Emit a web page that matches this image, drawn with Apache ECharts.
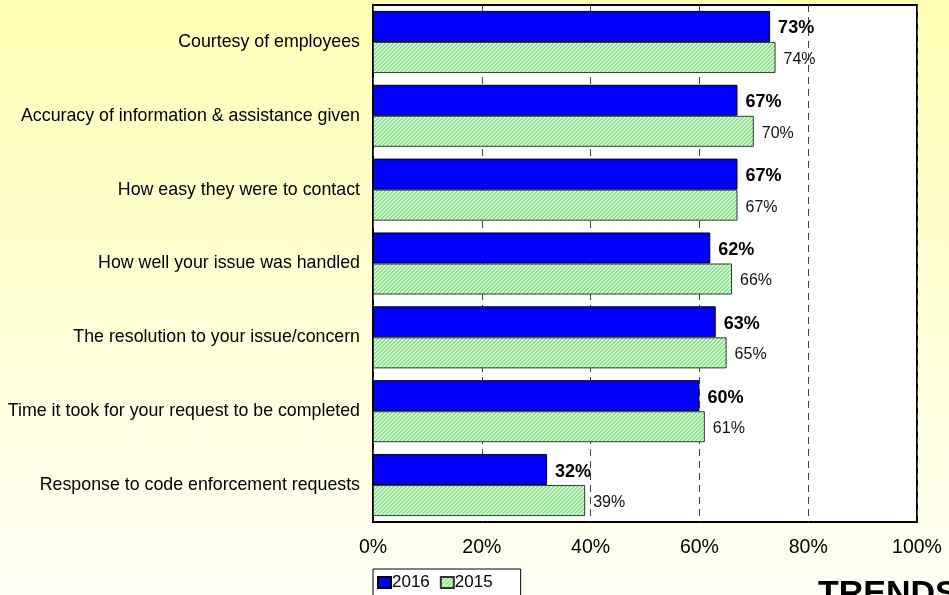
<!DOCTYPE html>
<html>
<head>
<meta charset="utf-8">
<script src="https://cdn.jsdelivr.net/npm/echarts@6/dist/echarts.min.js"></script>
<style>
html,body{margin:0;padding:0;}
#chart{width:949px;height:595px;}
</style>
</head>
<body>
<div id="chart"></div>
<script>
var categories = [
  'Courtesy of employees',
  'Accuracy of information & assistance given',
  'How easy they were to contact',
  'How well your issue was handled',
  'The resolution to your issue/concern',
  'Time it took for your request to be completed',
  'Response to code enforcement requests'
];
var values2016 = [73, 67, 67, 62, 63, 60, 32];
var values2015 = [74, 70, 67, 66, 65, 61, 39];
var seriesNames = ['2016', '2015'];
var footerText = 'TRENDS';

function makeHatch() {
  var c = document.createElement('canvas');
  c.width = 4; c.height = 4;
  var ctx = c.getContext('2d');
  ctx.fillStyle = '#DEFFDE';
  ctx.fillRect(0, 0, 4, 4);
  ctx.fillStyle = '#80EC80';
  for (var i = 0; i < 4; i++) {
    ctx.fillRect((3 - i) % 4, i, 1, 1);
    ctx.fillRect((4 - i) % 4, i, 1, 1);
  }
  return c;
}
var hatch = makeHatch();

var chart = echarts.init(document.getElementById('chart'), null, {renderer: 'canvas'});
var option = {
  animation: false,
  backgroundColor: {
    type: 'linear', x: 0, y: 0, x2: 0, y2: 1,
    colorStops: [
      {offset: 0, color: '#FFFFB4'},
      {offset: 1, color: '#FFFFF4'}
    ]
  },
  grid: {
    left: 373, right: 32, top: 5, bottom: 73,
    show: true, backgroundColor: '#FFFFFF', borderColor: '#000000', borderWidth: 2
  },
  legend: {
    data: seriesNames,
    left: 373, top: 569,
    orient: 'horizontal',
    backgroundColor: '#FFFFFF',
    borderColor: '#000000', borderWidth: 1, borderRadius: 0,
    padding: [5, 28, 5, 4],
    itemGap: 10,
    itemWidth: 13, itemHeight: 11,
    icon: 'rect',
    textStyle: {fontFamily: 'Liberation Sans, Arial', fontSize: 17, color: '#000', padding: [0, 0, 0, -4]}
  },
  xAxis: {
    type: 'value', min: 0, max: 100, interval: 20,
    axisLabel: {formatter: '{value}%', fontFamily: 'Liberation Sans, Arial', fontSize: 19.5, color: '#000', margin: 16},
    axisLine: {show: false}, axisTick: {show: false},
    splitLine: {show: true, lineStyle: {color: '#444', type: [7, 5], width: 1}}
  },
  yAxis: {
    type: 'category', data: categories, inverse: true,
    axisLabel: {fontFamily: 'Liberation Sans, Arial', fontSize: 17.8, color: '#000', margin: 13},
    axisLine: {show: false}, axisTick: {show: false}, splitLine: {show: false}
  },
  series: [
    {
      name: seriesNames[0], type: 'bar', data: values2016,
      barGap: '0%', barCategoryGap: '16%',
      itemStyle: {color: '#0000FF', borderColor: '#000', borderWidth: 1},
      label: {show: true, position: 'right', distance: 8, offset: [0, 2], formatter: '{c}%',
        fontFamily: 'Liberation Sans, Arial', fontSize: 18, fontWeight: 'bold', color: '#000'}
    },
    {
      name: seriesNames[1], type: 'bar', data: values2015,
      barGap: '0%', barCategoryGap: '16%',
      itemStyle: {color: {image: hatch, repeat: 'repeat'}, borderColor: '#333', borderWidth: 1},
      label: {show: true, position: 'right', distance: 8, offset: [0, 2], formatter: '{c}%',
        fontFamily: 'Liberation Sans, Arial', fontSize: 16, color: '#111'}
    }
  ],
  graphic: [
    {type: 'text', left: 818, top: 578, z: 10,
     style: {text: footerText, font: 'bold 34px "Liberation Sans", Arial', fill: '#000'}}
  ]
};
chart.setOption(option);
</script>
</body>
</html>
